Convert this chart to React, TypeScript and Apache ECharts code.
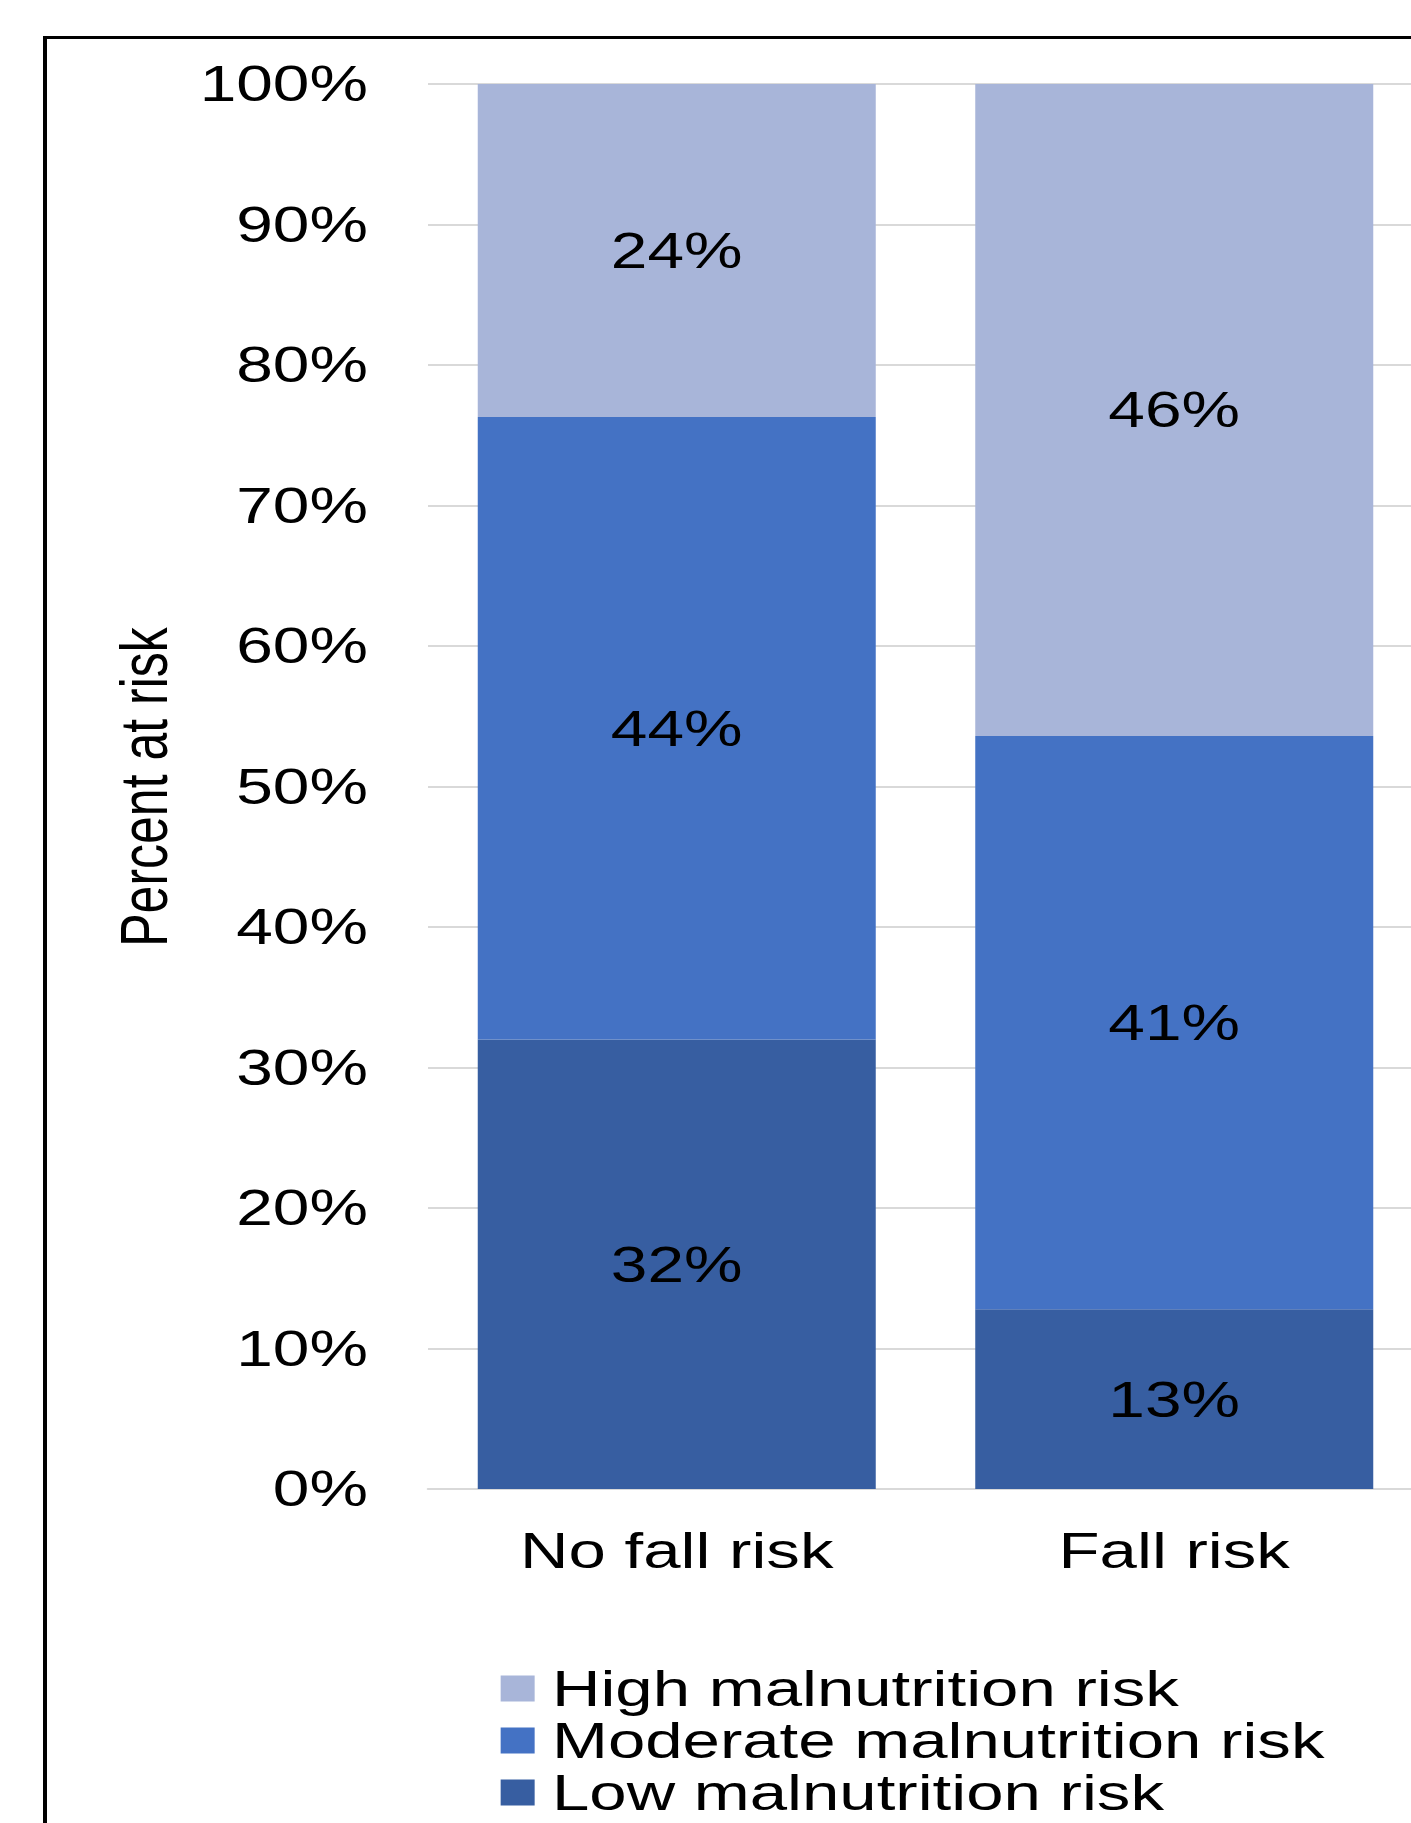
import React, { useEffect, useRef } from "react";
import * as echarts from "echarts";

const categories = ["No fall risk", "Fall risk"];
const seriesNames = ["High malnutrition risk", "Moderate malnutrition risk", "Low malnutrition risk"];
const lowRisk = [32.0, 12.8];
const moderateRisk = [44.3, 40.8];
const highRisk = [23.7, 46.4];
const yTicks = { min: 0, max: 100, interval: 10 };
const colors = { high: "#A8B5D9", moderate: "#4472C4", low: "#375EA1" };

const FONT = "'Liberation Sans', Arial, sans-serif";
// the reference is stretched horizontally; render narrower and scale in x
const S = 1.33;
const VIEW_W = 1411;
const H = 1823;
const sx = (x: number) => x / S;
const CHART_W = sx(VIEW_W + 60);

export default function App() {
  const ref = useRef<HTMLDivElement>(null);
  useEffect(() => {
    if (!ref.current) return;
    const chart = echarts.init(ref.current, null, { renderer: "svg" });
    const label = {
      show: true,
      position: "inside",
      color: "#000",
      fontSize: 49.5,
      fontFamily: FONT,
      formatter: (p: any) => Math.round(p.value) + "%",
    };
    chart.setOption({
      animation: false,
      backgroundColor: "#fff",
      textStyle: { fontFamily: FONT },
      grid: { left: sx(428), top: 84, width: sx(995), height: 1405, containLabel: false },
      xAxis: {
        type: "category",
        data: categories,
        axisLine: { show: true, lineStyle: { color: "#D9D9D9", width: 2 } },
        axisTick: { show: false },
        axisLabel: { color: "#000", fontSize: 50.5, fontFamily: FONT, margin: 36 },
      },
      yAxis: {
        type: "value",
        min: yTicks.min,
        max: yTicks.max,
        interval: yTicks.interval,
        axisLine: { show: false },
        axisTick: { show: false },
        axisLabel: {
          color: "#000",
          fontSize: 49.5,
          fontFamily: FONT,
          margin: sx(60),
          padding: [0, 0, 6, 0],
          formatter: "{value}%",
        },
        splitLine: { lineStyle: { color: "#D9D9D9", width: 2 } },
      },
      legend: {
        orient: "vertical",
        left: sx(494),
        top: 1658,
        height: 170,
        itemWidth: sx(34),
        itemHeight: 26,
        itemGap: 1,
        icon: "rect",
        data: seriesNames,
        textStyle: {
          color: "#000",
          fontSize: 50.5,
          lineHeight: 46,
          fontFamily: FONT,
          padding: [0, 0, 0, 8],
        },
      },
      graphic: [
        {
          type: "rect",
          shape: { x: sx(45), y: 37.5, width: 1500, height: 2000 },
          style: { fill: "none", stroke: "#000", lineWidth: 3 },
          silent: true,
        },
        {
          type: "text",
          x: sx(144),
          y: 787,
          rotation: Math.PI / 2,
          style: {
            text: "Percent at risk",
            fill: "#000",
            font: `50px ${FONT}`,
            align: "center",
            verticalAlign: "middle",
          },
          silent: true,
        },
      ],
      series: [
        {
          name: seriesNames[2],
          type: "bar",
          stack: "total",
          data: lowRisk,
          barCategoryGap: "20%",
          itemStyle: { color: colors.low },
          label,
        },
        {
          name: seriesNames[1],
          type: "bar",
          stack: "total",
          data: moderateRisk,
          barCategoryGap: "20%",
          itemStyle: { color: colors.moderate },
          label,
        },
        {
          name: seriesNames[0],
          type: "bar",
          stack: "total",
          data: highRisk,
          barCategoryGap: "20%",
          itemStyle: { color: colors.high },
          label,
        },
      ],
    });
    return () => chart.dispose();
  }, []);
  return (
    <div style={{ position: "absolute", left: 0, top: 0, width: VIEW_W, height: H, overflow: "hidden", background: "#fff" }}>
      <div
        ref={ref}
        style={{ width: CHART_W, height: H, transform: `scaleX(${S})`, transformOrigin: "0 0" }}
      />
    </div>
  );
}
